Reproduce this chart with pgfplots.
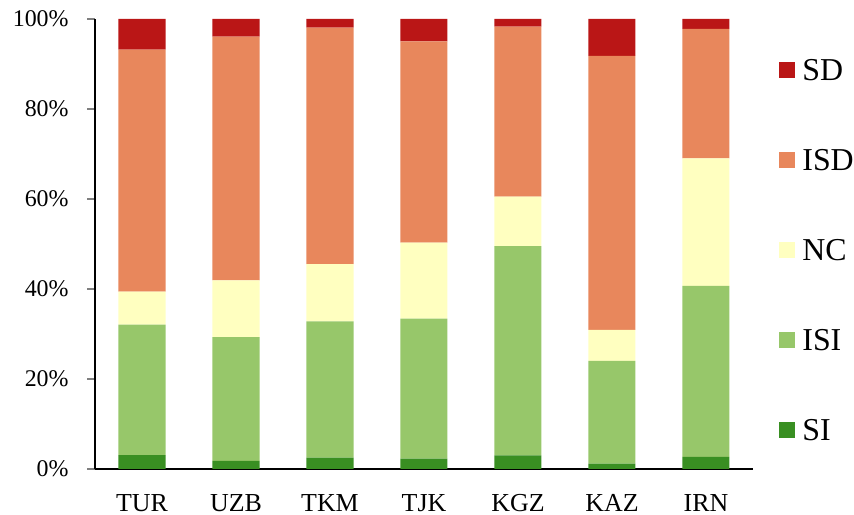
\documentclass[border=0pt]{standalone}
\usepackage{pgfplots}
\usepackage{pgfplotstable}
\pgfplotsset{compat=1.18}
\usepackage{fontspec}
\setmainfont{Liberation Serif}

\definecolor{cSD}{HTML}{BA1616}
\definecolor{cISD}{HTML}{E8875C}
\definecolor{cNC}{HTML}{FFFFC0}
\definecolor{cISI}{HTML}{97C76A}
\definecolor{cSI}{HTML}{398F22}

% shares in percent
\pgfplotstableread{
x  SI   ISI   NC    ISD   SD
0  3.1  29.0  7.3   53.8  6.8
1  1.8  27.5  12.6  54.2  3.9
2  2.5  30.3  12.7  52.6  1.9
3  2.3  31.1  16.9  44.7  5.0
4  3.0  46.5  11.0  37.8  1.7
5  1.2  22.8  6.9   60.9  8.2
6  2.7  38.0  28.3  28.8  2.2
}\shares

\begin{document}
\begin{tikzpicture}
\begin{axis}[
    name=ax,
    scale only axis,
    width=329bp, height=225bp,
    ybar stacked, bar width=23.5bp,
    xmin=-0.5, xmax=6.5,
    ymin=0, ymax=100,
    axis lines=left,
    axis line style={-, line width=1bp},
    xtick=data,
    xticklabels={TUR,UZB,TKM,TJK,KGZ,KAZ,IRN},
    xtick style={draw=none},
    ytick={0,20,...,100},
    yticklabel={\pgfmathprintnumber{\tick}\%},
    /pgf/number format/assume math mode=true,
    ytick style={line width=1bp},
    tick align=outside,
    major tick length=4bp,
    yticklabel style={inner sep=0pt, xshift=-9bp, font=\fontsize{12}{14}\selectfont},
    xticklabel style={inner sep=0pt, yshift=-8.5bp, anchor=north, text depth=0pt,
        font=\fontsize{13}{15}\selectfont},
    reverse legend,
    legend image code/.code={\fill[#1] (0bp,1.25bp) rectangle (8bp,9.25bp);},
    legend style={draw=none, fill=none, at={(1.0395,0.912)}, anchor=north west,
        inner sep=0pt, row sep=34bp, font=\fontsize{16}{18}\selectfont,
        nodes={inner sep=0pt, anchor=base west, text height=11bp, text depth=0bp},
        /tikz/every odd column/.append style={column sep=3.5bp}},
    legend cell align=left,
]
\addplot[fill=cSI, draw=none] table[x=x, y=SI] {\shares};
\addplot[fill=cISI, draw=none] table[x=x, y=ISI] {\shares};
\addplot[fill=cNC, draw=none] table[x=x, y=NC] {\shares};
\addplot[fill=cISD, draw=none] table[x=x, y=ISD] {\shares};
\addplot[fill=cSD, draw=none] table[x=x, y=SD] {\shares};
\legend{SI,ISI,NC,ISD,SD}
\end{axis}
\pgfresetboundingbox
\path[use as bounding box] (-47.5bp,-23bp) rectangle (379.5bp,234.5bp);
\end{tikzpicture}
\end{document}
